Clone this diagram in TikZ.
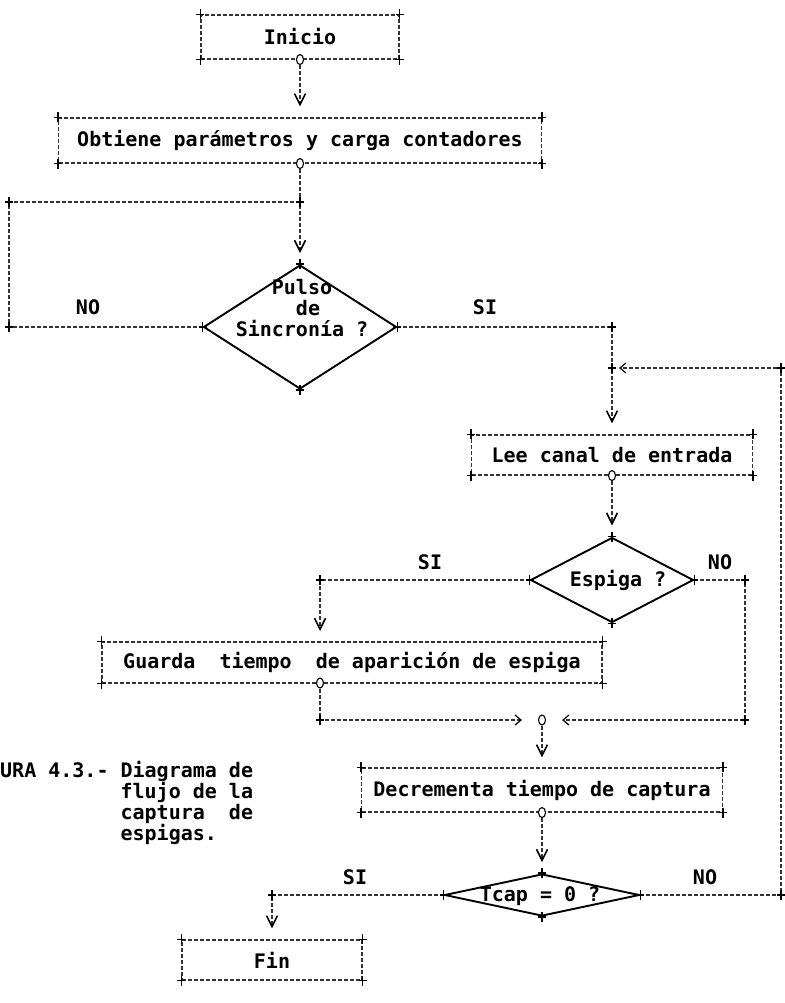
\documentclass[tikz,border=0pt]{standalone}
\usepackage{fontspec}
\setmonofont{DejaVu Sans Mono}
\usepackage{tikz}
\usetikzlibrary{arrows.meta,shapes.geometric}

\begin{document}
\begin{tikzpicture}[x=1pt,y=-1pt,
  font=\ttfamily\bfseries\fontsize{20}{21}\selectfont,
  caja/.style={draw=black!80,line width=1.1pt,dash pattern=on 4pt off 2pt,inner sep=0pt},
  decision/.style={diamond,draw,line width=1.9pt,inner sep=0pt},
  punto/.style={ellipse,draw,line width=1.1pt,fill=white,inner sep=0pt,minimum width=7pt,minimum height=10pt},
  linea/.style={draw=black!80,line width=1.1pt,dash pattern=on 4pt off 2pt},
  flecha/.style={linea,-{Straight Barb[length=11pt,width=11pt,line width=1.6pt,color=black]},shorten >=11pt},
  flechah/.style={linea,-{Straight Barb[length=6pt,width=10pt,line width=1.2pt,color=black]}},
  cruz/.style={black,line width=1.3pt}]
  \useasboundingbox (0,0) rectangle (784,1003);

  %cajas
  \node[caja,minimum width=198pt,minimum height=44pt] (inicio) at (300,37) {Inicio};
  \node[caja,minimum width=483pt,minimum height=45pt] (obtiene) at (300,140.5) {Obtiene parámetros y carga contadores};
  \node[caja,minimum width=281pt,minimum height=40pt] (lee) at (612,455) {Lee canal de entrada};
  \node[caja,minimum width=500pt,minimum height=41pt] (guarda) at (352,662.5) {Guarda~~tiempo~~de aparición de espiga};
  \node[caja,minimum width=361pt,minimum height=44pt] (decrementa) at (542,790) {Decrementa tiempo de captura};
  \node[caja,minimum width=180pt,minimum height=40pt] (fin) at (272,960) {Fin};

  %rombos
  \node[decision,minimum width=193pt,minimum height=124pt] (pulso) at (300,327) {};
  \node[align=center] (pulso-txt) at (302,308) {Pulso\\~de\\Sincronía ?};
  \node[decision,minimum width=163pt,minimum height=85pt] (espiga) at (612,580) {};
  \node (espiga-txt) at (618,580) {Espiga ?};
  \node[decision,minimum width=195pt,minimum height=42pt] (tcap) at (542,895) {};
  \node (tcap-txt) at (540,896) {Tcap = 0 ?};

  %salidas
  \node[punto] (inicio-o) at (inicio.south) {};
  \node[punto] (obtiene-o) at (obtiene.south) {};
  \node[punto] (lee-o) at (lee.south) {};
  \node[punto] (guarda-o) at (320,683) {};
  \node[punto] (decrementa-o) at (decrementa.south) {};
  \node[punto] (union) at (542,720) {};

  %esquinas
  \coordinate (lazo-inf) at (9,327);
  \coordinate (lazo-izq) at (9,202);
  \coordinate (lazo-sup) at (300,202);
  \coordinate (si-esq) at (612,327);
  \coordinate (retorno) at (612,368);
  \coordinate (der-sup) at (781,368);
  \coordinate (der-inf) at (781,895);
  \coordinate (esp-izq) at (320,580);
  \coordinate (g-arriba) at (320,642);
  \coordinate (esp-der) at (745,580);
  \coordinate (no-esq) at (745,720);
  \coordinate (g-esq) at (320,720);
  \coordinate (fin-esq) at (272,895);

  %conectores
  \draw[flecha] (inicio-o) -- (obtiene);
  \draw[flecha] (obtiene-o) -- (pulso);
  \draw[linea] (pulso.west) -- (lazo-inf) -- (lazo-izq) -- (lazo-sup);
  \draw[flecha] (pulso.east) -- (si-esq) -- (lee.north);
  \draw[flechah,shorten >=7pt] (tcap.east) -- (der-inf) -- (der-sup) -- (retorno);
  \draw[flecha] (lee-o) -- (espiga);
  \draw[flecha] (espiga.west) -- (esp-izq) -- (g-arriba);
  \draw[flechah,shorten >=16pt] (espiga.east) -- (esp-der) -- (no-esq) -- (union);
  \draw[flechah,shorten >=16pt] (guarda-o) -- (g-esq) -- (union);
  \draw[flecha,shorten >=10pt] (union) -- (decrementa);
  \draw[flecha] (decrementa-o) -- (tcap);
  \draw[flecha] (tcap.west) -- (fin-esq) -- (fin.north);

  %etiquetas
  \node (no1) at (88,307) {NO};
  \node (si1) at (485,307) {SI};
  \node (si2) at (430,562) {SI};
  \node (no2) at (720,562) {NO};
  \node (si3) at (355,877) {SI};
  \node (no3) at (705,877) {NO};

  %cruces
  \foreach \n in {inicio,obtiene,lee,guarda,decrementa,fin}
    \foreach \a in {north west,north east,south west,south east}
      \draw[cruz] (\n.\a) +(-4,0) -- +(4,0) +(0,-5) -- +(0,5);
  \foreach \n in {pulso,espiga,tcap}
    \foreach \a in {north,south,east,west}
      \draw[cruz] (\n.\a) +(-4,0) -- +(4,0) +(0,-5) -- +(0,5);
  \foreach \p in {lazo-inf,lazo-izq,lazo-sup,si-esq,retorno,der-sup,der-inf,esp-izq,esp-der,no-esq,g-esq,fin-esq}
    \draw[cruz] (\p) +(-4,0) -- +(4,0) +(0,-5) -- +(0,5);

  %leyenda
  \node[anchor=north west,inner sep=0pt,align=left] (leyenda) at (0,761)
    {URA 4.3.-~Diagrama de\\\hphantom{URA 4.3.-~}flujo de la\\\hphantom{URA 4.3.-~}captura~~de\\\hphantom{URA 4.3.-~}espigas.};
\end{tikzpicture}
\end{document}
